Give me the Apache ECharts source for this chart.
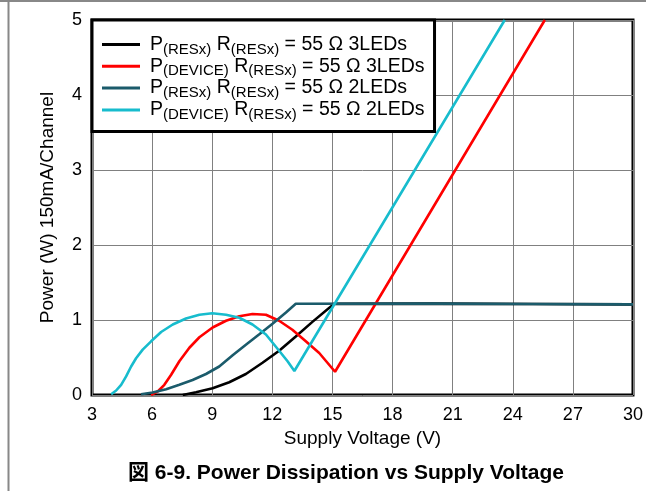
<!DOCTYPE html>
<html>
<head>
<meta charset="utf-8">
<script src="https://cdn.jsdelivr.net/npm/echarts@6/dist/echarts.min.js"></script>
<style>
  html, body { margin: 0; padding: 0; background: #fff; }
  #chart { width: 646px; height: 491px; }
</style>
</head>
<body>
<div id="chart"></div>
<script>
  // 系列名称（图例）
  const seriesNames = [
    'P(RESx) R(RESx) = 55 Ω 3LEDs',
    'P(DEVICE) R(RESx) = 55 Ω 3LEDs',
    'P(RESx) R(RESx) = 55 Ω 2LEDs',
    'P(DEVICE) R(RESx) = 55 Ω 2LEDs'
  ]
  const seriesColors = ['#000000', '#ff0000', '#1b5b6b', '#17bccd']

  // [供电电压 V, 功率 W]
  const resx3Leds = [
    [7.53, 0], [8.19, 0.038], [9.02, 0.09], [9.85, 0.17], [10.68, 0.28],
    [11.51, 0.43], [12.34, 0.59], [13.17, 0.78], [14.0, 0.975], [14.83, 1.16],
    [15.1, 1.215], [20, 1.218], [25, 1.213], [30, 1.208]
  ]
  const device3Leds = [
    [5.95, 0], [6.28, 0.047], [6.61, 0.136], [6.95, 0.27], [7.36, 0.45],
    [7.86, 0.63], [8.36, 0.77], [9.02, 0.9], [9.69, 0.99], [10.35, 1.05],
    [11.01, 1.08], [11.68, 1.07], [12.34, 0.99], [13.0, 0.87], [13.67, 0.716],
    [14.34, 0.56], [15.13, 0.31], [25.6, 5]
  ]
  const resx2Leds = [
    [5.45, 0.01], [6.03, 0.033], [6.7, 0.078], [7.36, 0.136], [8.02, 0.2],
    [8.69, 0.28], [9.35, 0.38], [10.02, 0.53], [10.68, 0.67], [11.35, 0.81],
    [12.01, 0.95], [12.68, 1.1], [13.17, 1.216], [20, 1.218], [25, 1.213], [30, 1.208]
  ]
  const device2Leds = [
    [3.956, 0.011], [4.205, 0.06], [4.454, 0.136], [4.703, 0.248], [4.952, 0.38],
    [5.2, 0.49], [5.53, 0.605], [5.95, 0.716], [6.45, 0.84], [7.03, 0.94],
    [7.69, 1.02], [8.36, 1.07], [9.0, 1.09], [9.69, 1.07], [10.35, 1.03],
    [11.01, 0.94], [11.68, 0.806], [12.34, 0.59], [12.76, 0.45], [13.1, 0.32],
    [23.6, 5]
  ]
  const seriesData = [resx3Leds, device3Leds, resx2Leds, device2Leds]

  // 图例的富文本（下标）
  const legendLabels = [
    'P{s|(RESx)} R{s|(RESx)} = 55 Ω 3LEDs',
    'P{s|(DEVICE)} R{s|(RESx)} = 55 Ω 3LEDs',
    'P{s|(RESx)} R{s|(RESx)} = 55 Ω 2LEDs',
    'P{s|(DEVICE)} R{s|(RESx)} = 55 Ω 2LEDs'
  ]

  const font = '"Liberation Sans", Arial, "Noto Sans CJK JP", sans-serif'
  const chart = echarts.init(document.getElementById('chart'))

  chart.setOption({
    animation: false,
    textStyle: { fontFamily: font },
    title: {
      text: '図 6-9. Power Dissipation vs Supply Voltage',
      left: 341,
      top: 458,
      textAlign: 'center',
      textStyle: { fontFamily: font, fontSize: 21, fontWeight: 'bold', color: '#000' }
    },
    graphic: [
      { type: 'line', shape: { x1: 0, y1: 1, x2: 646, y2: 1 }, style: { stroke: '#888', lineWidth: 2 } },
      { type: 'line', shape: { x1: 8.5, y1: 0, x2: 8.5, y2: 491 }, style: { stroke: '#888', lineWidth: 2 } }
    ],
    legend: {
      orient: 'vertical',
      left: 92,
      top: 20,
      padding: [12, 10, 9, 10],
      itemGap: -3.2,
      itemWidth: 38,
      itemHeight: 3,
      icon: 'rect',
      backgroundColor: '#fff',
      borderColor: '#000',
      borderWidth: 3,
      data: seriesNames,
      formatter: (name) => legendLabels[seriesNames.indexOf(name)],
      textStyle: {
        fontFamily: font,
        fontSize: 19.5,
        color: '#000',
        lineHeight: 25,
        padding: [0, 0, 0, 5],
        rich: {
          s: { fontFamily: font, fontSize: 15, lineHeight: 15, padding: [10, 0, 0, 0], color: '#000' }
        }
      }
    },
    grid: {
      left: 92,
      right: 13,
      top: 20,
      bottom: 96,
      show: true,
      borderColor: '#000',
      borderWidth: 3
    },
    xAxis: {
      type: 'value',
      min: 3,
      max: 30,
      interval: 3,
      name: 'Supply Voltage (V)',
      nameLocation: 'middle',
      nameGap: 32,
      nameTextStyle: { fontFamily: font, fontSize: 19, color: '#000' },
      axisLine: { show: false },
      axisTick: { show: false },
      axisLabel: { fontFamily: font, fontSize: 18, color: '#000', margin: 11 },
      splitLine: { lineStyle: { color: '#808080', width: 1 } }
    },
    yAxis: {
      type: 'value',
      min: 0,
      max: 5,
      interval: 1,
      name: 'Power (W) 150mA/Channel',
      nameLocation: 'middle',
      nameGap: 35,
      nameTextStyle: { fontFamily: font, fontSize: 19, color: '#000' },
      axisLine: { show: false },
      axisTick: { show: false },
      axisLabel: { fontFamily: font, fontSize: 18, color: '#000', margin: 10 },
      splitLine: { lineStyle: { color: '#808080', width: 1 } }
    },
    series: seriesNames.map((name, i) => ({
      name: name,
      type: 'line',
      color: seriesColors[i],
      showSymbol: false,
      smooth: false,
      lineStyle: { width: 2.6, color: seriesColors[i] },
      data: seriesData[i]
    }))
  })
</script>
</body>
</html>
